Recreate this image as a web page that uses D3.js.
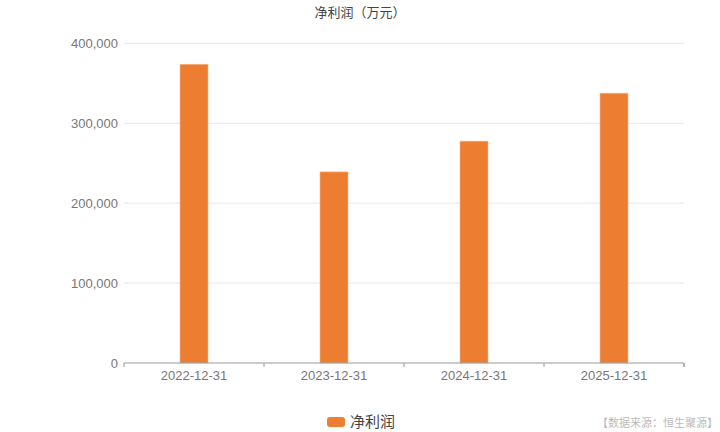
<!DOCTYPE html>
<html><head><meta charset="utf-8">
<script src="https://cdn.jsdelivr.net/npm/d3@7"></script>
<style>body{margin:0;background:#fff;}svg{display:block;font-family:"Noto Sans CJK SC","Noto Sans",sans-serif;}</style>
</head><body>
<script>
const categories = ["2022-12-31","2023-12-31","2024-12-31","2025-12-31"];
const values = [373800, 239100, 277600, 337600];
const yTicks = [0,100000,200000,300000,400000];
const title = "净利润（万元）";
const seriesName = "净利润";
const source = "【数据来源：恒生聚源】";

const W=720,H=432, m={l:124,r:36,t:43.3,b:69};
const svg=d3.select("body").append("svg").attr("width",W).attr("height",H);
const x=d3.scaleBand().domain(categories).range([m.l,W-m.r]);
const y=d3.scaleLinear().domain([0,400000]).range([H-m.b,m.t]);
const fmt=d3.format(",");

svg.append("g").selectAll("line").data(yTicks.slice(1)).join("line")
 .attr("x1",m.l).attr("x2",W-m.r).attr("y1",d=>y(d)).attr("y2",d=>y(d))
 .attr("stroke","#e6e6ee").attr("stroke-width",1);

const bw=28;
svg.append("g").selectAll("rect").data(values).join("rect")
 .attr("x",(d,i)=>x(categories[i])+x.bandwidth()/2-bw/2)
 .attr("width",bw).attr("y",d=>y(d)).attr("height",d=>y(0)-y(d))
 .attr("fill","#ED7D31").attr("stroke","#f5b98f").attr("stroke-width",0.6);

const ya=svg.append("g").attr("transform",`translate(${m.l},0)`)
 .call(d3.axisLeft(y).tickValues(yTicks).tickFormat(fmt).tickSize(0).tickPadding(6));
ya.select(".domain").remove();
ya.selectAll("text").attr("fill","#777").attr("font-size",13);

const xa=svg.append("g").attr("transform",`translate(0,${y(0)})`)
 .call(d3.axisBottom(x).tickSize(4).tickPadding(4));
xa.select(".domain").attr("stroke","#999").attr("d",`M${m.l},4V0H${W-m.r}V4`);
xa.selectAll(".tick line").attr("stroke","#999").attr("transform",`translate(${x.bandwidth()/2},0)`);
xa.selectAll("text").attr("fill","#777").attr("font-size",13);

svg.append("text").attr("x",360).attr("y",17).attr("text-anchor","middle")
 .attr("font-size",13).attr("fill","#444").text(title);

svg.append("rect").attr("x",327).attr("y",417).attr("width",18).attr("height",10).attr("rx",3)
 .attr("fill","#ED7D31");
svg.append("text").attr("x",350).attr("y",427).attr("font-size",15).attr("fill","#444").text(seriesName);
svg.append("text").attr("x",718).attr("y",427).attr("text-anchor","end")
 .attr("font-size",11).attr("fill","#bbb").text(source);
</script>
</body></html>
